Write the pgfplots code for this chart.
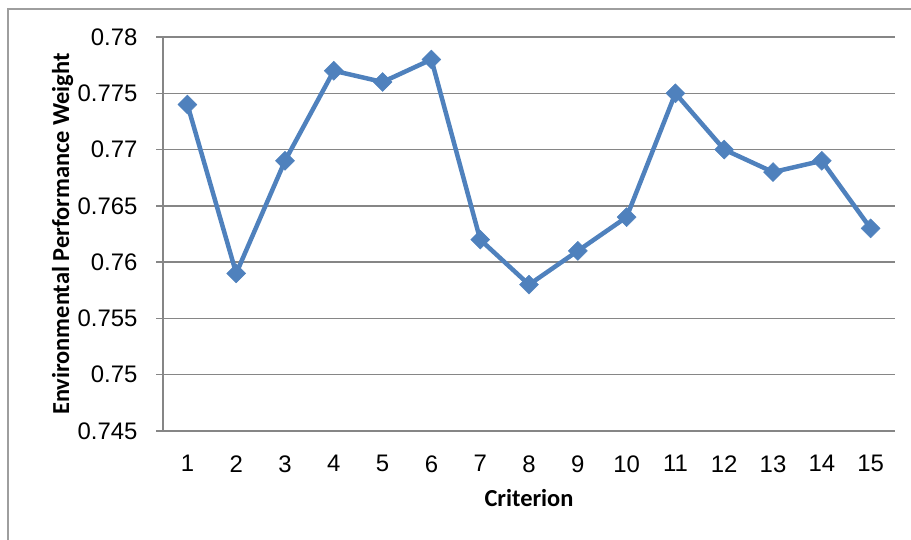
\documentclass[border=0pt]{standalone}
\usepackage{fontspec}
\setmainfont{Liberation Sans}
\newfontfamily\labelfont{Carlito}
\usepackage{pgfplots}
\pgfplotsset{compat=1.18}
\definecolor{linecol}{HTML}{4F81BD}
\definecolor{gridcol}{HTML}{868686}
\begin{document}
\begin{tikzpicture}[x=1bp,y=1bp]
\useasboundingbox (0,0) rectangle (911,540);
\draw[gridcol!80, line width=1.5bp] (8,0) -- (8,531) -- (911,531);
\begin{axis}[
  at={(163bp,109bp)}, anchor=south west,
  scale only axis, width=732bp, height=394bp,
  xmin=0.5, xmax=15.5, ymin=0.745, ymax=0.78,
  xtick={1,...,15}, ytick={0.745,0.75,...,0.781},
  axis x line=bottom, axis y line=left,
  axis line style={gridcol, line width=1.5bp, -},
  ymajorgrids, major grid style={gridcol, line width=1.5bp},
  x tick style={draw=none}, y tick style={gridcol, line width=1.5bp},
  major tick length=7bp,
  tick align=outside,
  yticklabel style={/pgf/number format/fixed, /pgf/number format/precision=3, xshift=-15bp},
  xticklabel style={yshift=-14bp},
  /pgf/number format/assume math mode=true,
  tick label style={font=\fontsize{24}{27}\selectfont, text=black},
  xlabel={Criterion}, ylabel={Environmental Performance Weight},
  label style={font=\labelfont\bfseries\fontsize{24.5}{28}\selectfont, text=black},
  xlabel style={at={(axis description cs:0.5,-0.17)}, anchor=center},
  ylabel style={at={(axis description cs:-0.137,0.5)}, anchor=center, rotate=0},
  clip=false,
]
\addplot[linecol, line width=4.5bp, mark=square*, mark size=6.7bp, mark options={rotate=45, solid, fill=linecol, draw=linecol, line width=0.5bp}]
coordinates {(1,0.774) (2,0.759) (3,0.769) (4,0.777) (5,0.776) (6,0.778) (7,0.762) (8,0.758) (9,0.761) (10,0.764) (11,0.775) (12,0.770) (13,0.768) (14,0.769) (15,0.763)};
\end{axis}
\end{tikzpicture}
\end{document}
